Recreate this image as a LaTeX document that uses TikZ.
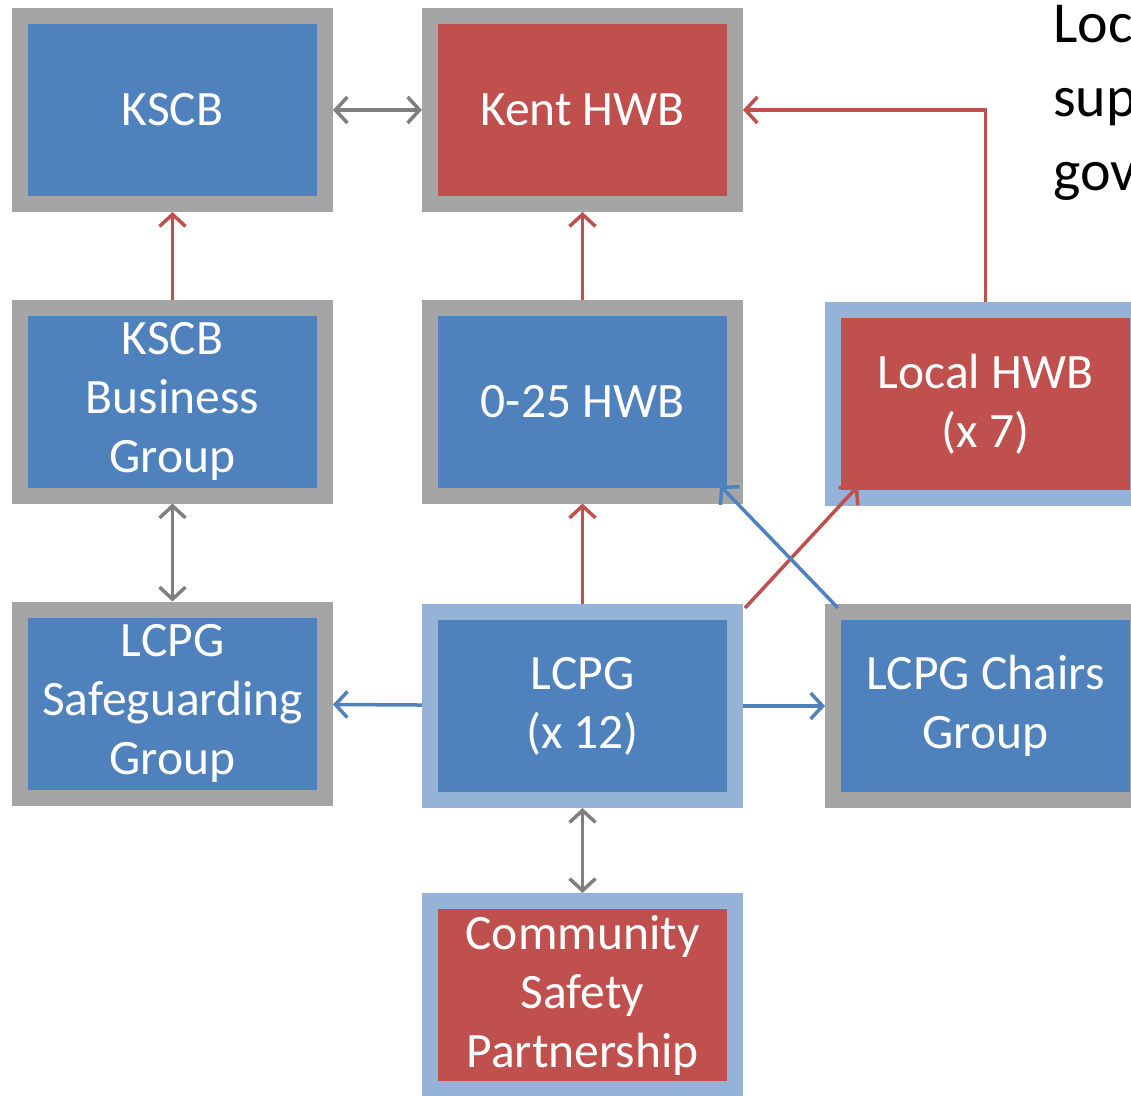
\documentclass[tikz,border=0pt]{standalone}
\usepackage{fontspec}
\setmainfont{Carlito}
\usetikzlibrary{arrows.meta,calc}
\definecolor{boxblue}{HTML}{4F81BD}
\definecolor{boxred}{HTML}{C0504D}
\definecolor{greyline}{HTML}{A5A5A5}
\definecolor{lightline}{HTML}{95B3D7}
\definecolor{arrowgrey}{HTML}{7F7F7F}

\begin{document}
\begin{tikzpicture}[
x=1pt,y=-1pt,
box/.style={draw=greyline,line width=16pt,fill=boxblue,text=white,minimum width=305pt,minimum height=188pt,inner sep=0pt,align=center,font=\fontsize{49.5}{59}\selectfont},
redbox/.style={box,fill=boxred},
lightedge/.style={draw=lightline},
link/.style={-{Straight Barb[length=12pt,width=26pt]},line width=3.5pt},
both/.style={link,{Straight Barb[length=12pt,width=26pt]}-{Straight Barb[length=12pt,width=26pt]},draw=arrowgrey},
up/.style={link,draw=boxred},
side/.style={link,draw=boxblue}
]
\useasboundingbox (0,0) rectangle (1131,1095);
\clip (0,0) rectangle (1131,1095);

\node[box] (kscb) at (172.5,110) {KSCB};
\node[redbox] (kent) at (582.5,110) {Kent HWB};
\node[box] (ksbg) at (172.5,401.5) {KSCB\\Business\\Group};
\node[box] (hwb) at (582.5,401.5) {0-25 HWB};
\node[redbox,lightedge] (local) at (985.5,404) {Local HWB\\(x 7)};
\node[box] (lcsg) at (172.5,703.5) {LCPG\\Safeguarding\\Group};
\node[box,lightedge] (lcpg) at (582.5,706) {LCPG\\(x 12)};
\node[box] (chairs) at (985.5,706) {LCPG Chairs\\Group};
\node[redbox,lightedge] (csp) at (582.5,995) {Community\\Safety\\Partnership};

% last line sits on the base anchor
\node[anchor=base west,align=left,font=\fontsize{58}{74}\selectfont,inner sep=0pt] (note) at (1053,190) {Loc\\sup\\gov};

\draw[both] (kscb) -- (kent);
\draw[up] (ksbg) -- (kscb);
\draw[up] (hwb) -- (kent);
\draw[up] (local.north) |- (kent.east);
\draw[both] (ksbg) -- (lcsg);
\draw[up] (lcpg) -- (hwb);
\draw[up] ($(lcpg.north east)+(2,4)$) -- ($(local.south west)+(33,-20)$);
\draw[side] ($(chairs.north west)+(13,4)$) -- ($(hwb.south east)+(-23,-18)$);
\draw[side] (lcpg) -- (lcsg);
\draw[side] (lcpg) -- (chairs);
\draw[both] (lcpg) -- (csp);
\end{tikzpicture}
\end{document}
